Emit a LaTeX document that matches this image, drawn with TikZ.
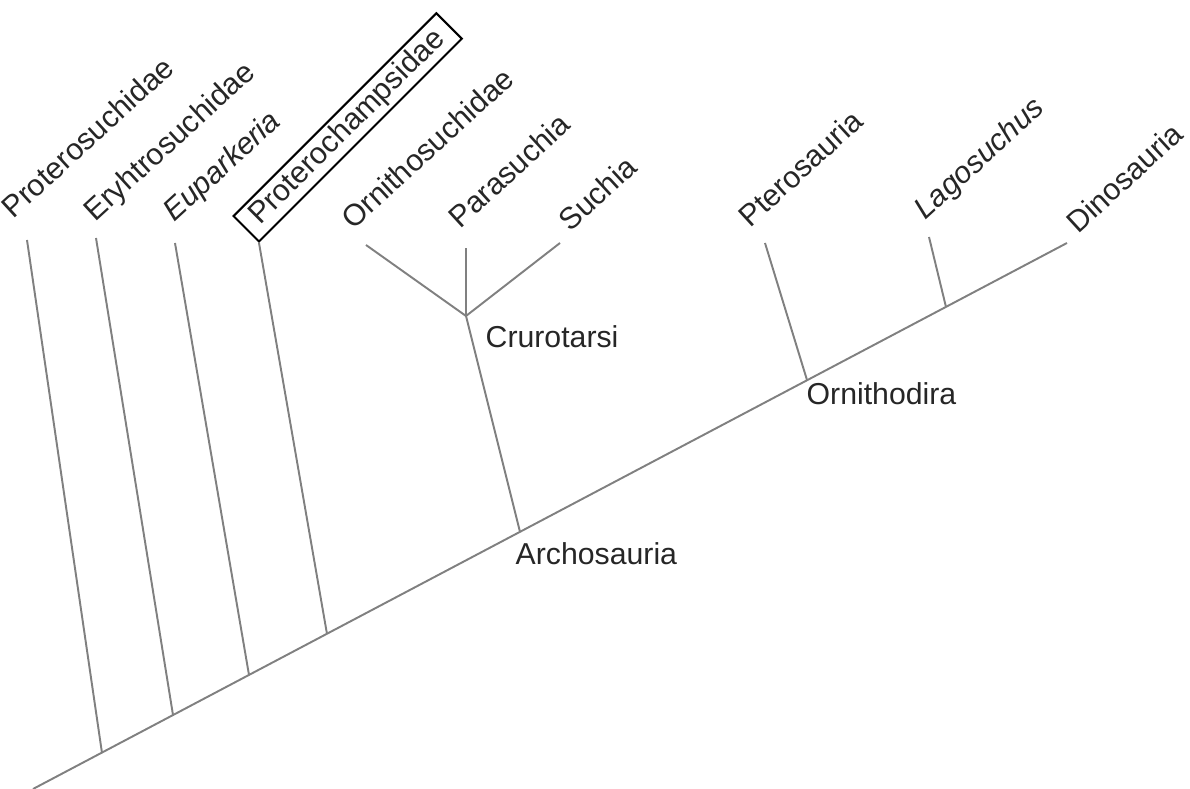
\documentclass[tikz,border=0pt]{standalone}
\usepackage{fontspec}
\setmainfont{Liberation Sans}
\begin{document}
\begin{tikzpicture}[x=0.01cm,y=-0.01cm,
    branch/.style={draw=black!50, line width=0.55pt},
    taxon/.style={rotate=42.5, anchor=base west, inner sep=0pt,
        text=black!85, font=\fontsize{8.6}{10}\selectfont},
    clade/.style={anchor=base west, inner sep=0pt,
        text=black!85, font=\fontsize{8.6}{10}\selectfont},
    boxed/.style={taxon, rotate=2.5, anchor=south west, draw=black, line width=0.6pt,
        inner xsep=3.5pt, inner ysep=1.1pt}
    ]
    \useasboundingbox (0,0) rectangle (1190,789);
    %---------------- stem ----------------
    \coordinate (root) at (33,789);
    \coordinate (dino) at (1067,243);
    \coordinate (jprot) at (102,753);
    \coordinate (jeryh) at (173,715);
    \coordinate (jeupa) at (249,675);
    \coordinate (jpcha) at (327,634);
    \coordinate (archo) at (520,532);
    \coordinate (ornd) at (807,380);
    \coordinate (jlago) at (946,307);
    \coordinate (crur) at (466,316);
    %---------------- tips ----------------
    \coordinate (tprot) at (27,240);
    \coordinate (teryh) at (96,238);
    \coordinate (teupa) at (175,243);
    \coordinate (tpcha) at (259,243);
    \coordinate (torni) at (366,245);
    \coordinate (tpara) at (466,248);
    \coordinate (tsuch) at (560,243);
    \coordinate (tpter) at (765,243);
    \coordinate (tlago) at (929,237);
    %---------------- branches ----------------
    \draw[branch] (root) -- (dino);
    \draw[branch] (jprot) -- (tprot);
    \draw[branch] (jeryh) -- (teryh);
    \draw[branch] (jeupa) -- (teupa);
    \draw[branch] (jpcha) -- (tpcha);
    \draw[branch] (archo) -- (crur);
    \draw[branch] (crur) -- (torni);
    \draw[branch] (crur) -- (tpara);
    \draw[branch] (crur) -- (tsuch);
    \draw[branch] (ornd) -- (tpter);
    \draw[branch] (jlago) -- (tlago);
    %---------------- labels ----------------
    \node[taxon] (lprot) at (13,220) {Proterosuchidae};
    \node[taxon] (leryh) at (95,223) {Eryhtrosuchidae};
    \node[taxon] (leupa) at (174,223) {\itshape Euparkeria};
    \node[boxed] (lpcha) at (tpcha) {Proterochampsidae};
    \node[taxon] (lorni) at (353,231) {Ornithosuchidae};
    \node[taxon] (lpara) at (460,230) {Parasuchia};
    \node[taxon] (lsuch) at (570,233) {Suchia};
    \node[taxon] (lpter) at (750,229) {Pterosauria};
    \node[taxon] (llago) at (925,221) {\itshape Lagosuchus};
    \node[taxon] (ldino) at (1078,235) {Dinosauria};
    \node[clade] (lcrur) at (485,348) {Crurotarsi};
    \node[clade] (larch) at (515,565) {Archosauria};
    \node[clade] (lornd) at (806,405) {Ornithodira};
\end{tikzpicture}
\end{document}
